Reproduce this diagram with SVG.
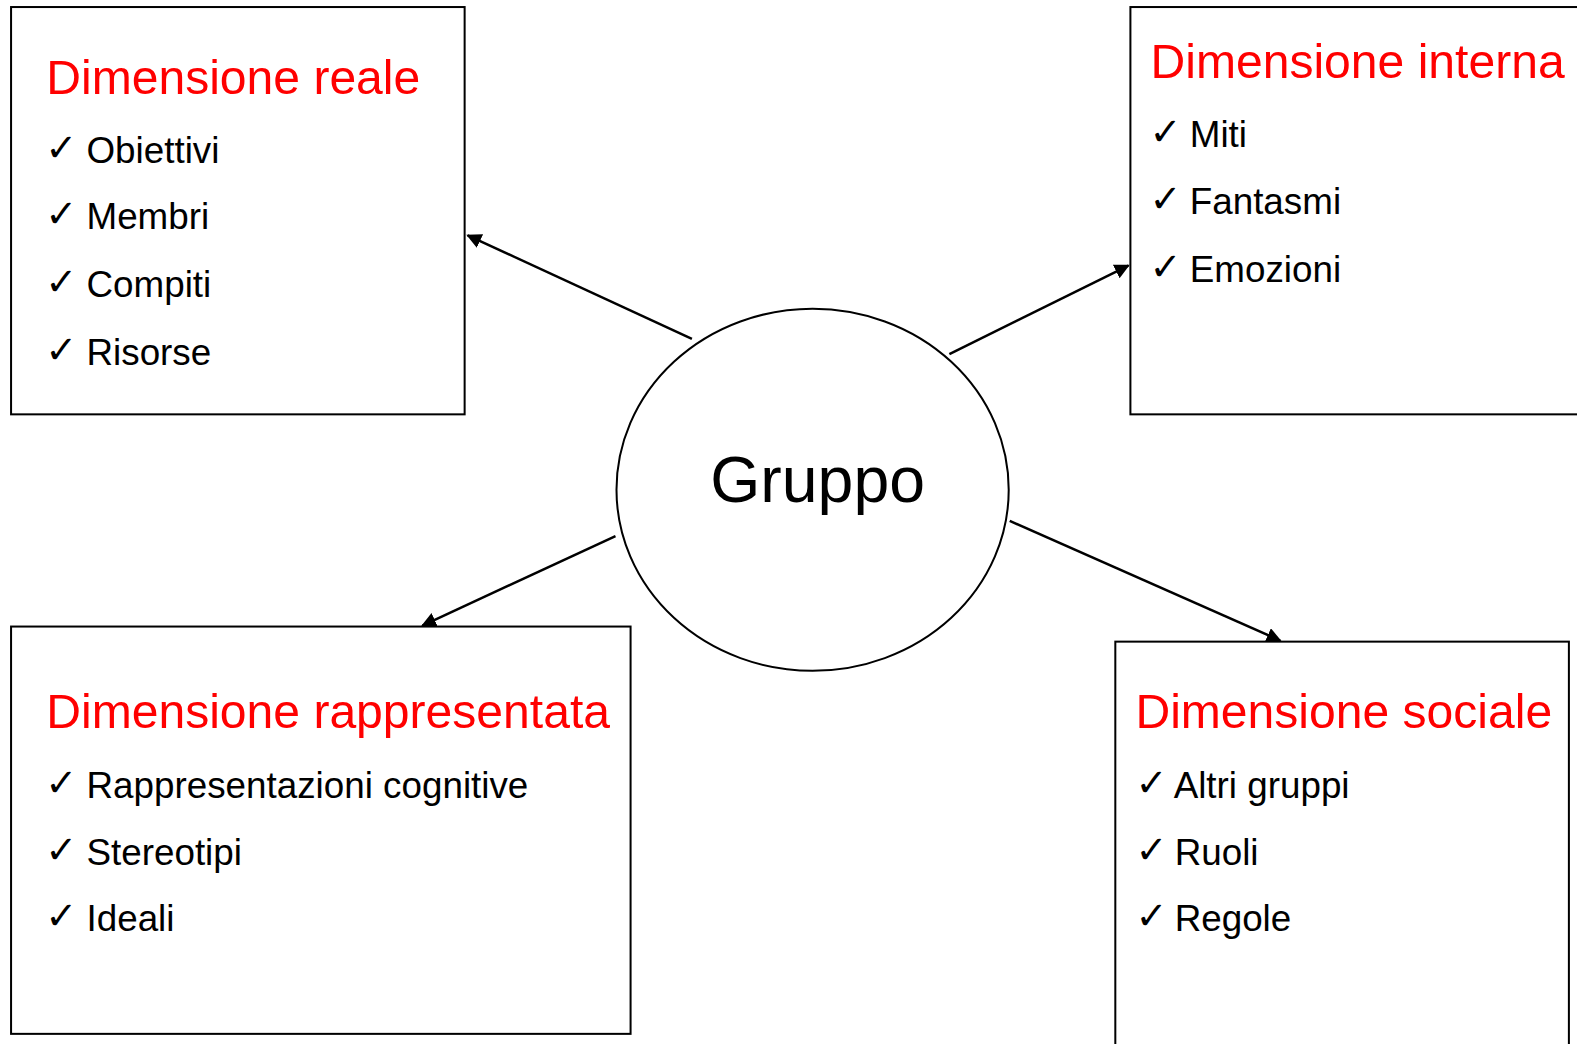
<svg xmlns="http://www.w3.org/2000/svg" width="1577" height="1044" viewBox="0 0 1577 1044">
<defs>
<style>
.box{fill:#fff;stroke:#000;stroke-width:2}
.t{font-family:"Liberation Sans",Arial,sans-serif;font-size:47.8px;fill:#ff0000}
.i{font-family:"Liberation Sans",Arial,sans-serif;font-size:36.6px;fill:#000}
.c{font-family:"DejaVu Sans",sans-serif;font-size:38px;fill:#000}
.g{font-family:"Liberation Sans",Arial,sans-serif;font-size:64px;fill:#000}
.conn{stroke:#000;stroke-width:2.5;fill:none;marker-end:url(#ah)}
</style>
<marker id="ah" viewBox="0 0 10 10" refX="9" refY="5" markerWidth="6" markerHeight="6" orient="auto" markerUnits="strokeWidth">
<path d="M0,0 L10,5 L0,10 z" fill="#000"/>
</marker>
</defs>
<rect width="1577" height="1044" fill="#fff"/>
<g transform="scale(1.0057)">
<g id="reale">
<rect class="box" x="11" y="7" width="451" height="405"/>
<text class="t" x="46" y="93">Dimensione reale</text>
<text class="c" x="45" y="160">✓</text><text class="i" x="86" y="162">Obiettivi</text>
<text class="c" x="45" y="226">✓</text><text class="i" x="86" y="228">Membri</text>
<text class="c" x="45" y="293">✓</text><text class="i" x="86" y="295">Compiti</text>
<text class="c" x="45" y="361">✓</text><text class="i" x="86" y="363">Risorse</text>
</g>
<g id="interna">
<rect class="box" x="1124" y="7" width="460" height="405"/>
<text class="t" x="1144" y="78">Dimensione interna</text>
<text class="c" x="1143" y="144">✓</text><text class="i" x="1183" y="146">Miti</text>
<text class="c" x="1143" y="211">✓</text><text class="i" x="1183" y="213">Fantasmi</text>
<text class="c" x="1143" y="278">✓</text><text class="i" x="1183" y="280">Emozioni</text>
</g>
<g id="rappresentata">
<rect class="box" x="11" y="623" width="616" height="405"/>
<text class="t" x="46" y="724">Dimensione rappresentata</text>
<text class="c" x="45" y="791">✓</text><text class="i" x="86" y="793">Rappresentazioni cognitive</text>
<text class="c" x="45" y="858">✓</text><text class="i" x="86" y="860">Stereotipi</text>
<text class="c" x="45" y="924">✓</text><text class="i" x="86" y="926">Ideali</text>
</g>
<g id="sociale">
<rect class="box" x="1109" y="638" width="451" height="420"/>
<text class="t" x="1129" y="724">Dimensione sociale</text>
<text class="c" x="1129" y="791">✓</text><text class="i" x="1167" y="793">Altri gruppi</text>
<text class="c" x="1129" y="858">✓</text><text class="i" x="1168" y="860">Ruoli</text>
<text class="c" x="1129" y="924">✓</text><text class="i" x="1168" y="926">Regole</text>
</g>
<g id="gruppo">
<ellipse cx="808" cy="487" rx="195" ry="180" fill="#fff" stroke="#000" stroke-width="2"/>
<text class="g" x="813" y="499" text-anchor="middle">Gruppo</text>
</g>
<g id="connectors">
<line class="conn" x1="688" y1="337" x2="465" y2="234"/>
<line class="conn" x1="944" y1="352" x2="1122" y2="264"/>
<line class="conn" x1="612" y1="533" x2="420" y2="622"/>
<line class="conn" x1="1004" y1="518" x2="1273" y2="637"/>
</g>
</g>
</svg>
